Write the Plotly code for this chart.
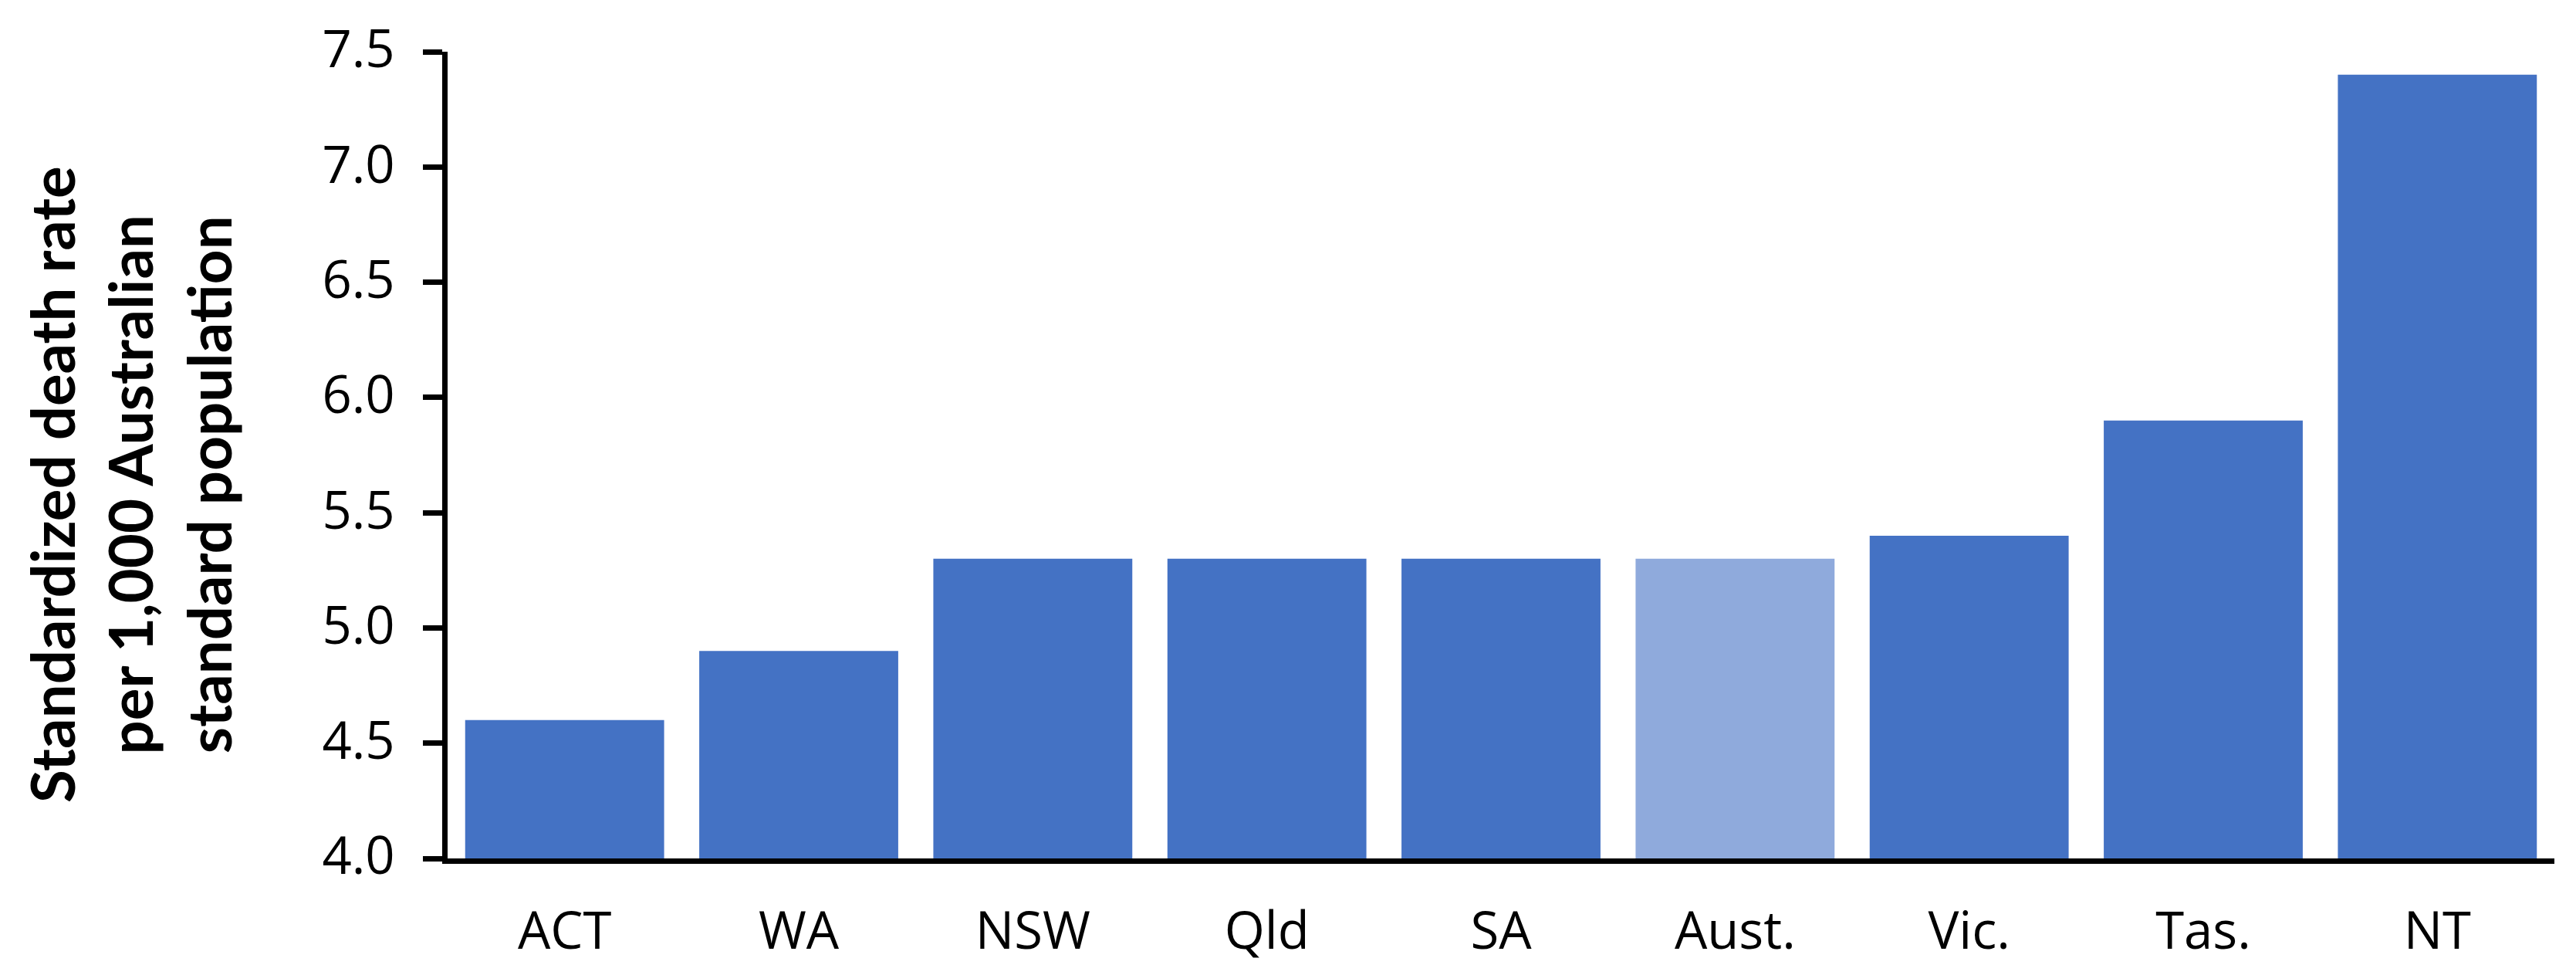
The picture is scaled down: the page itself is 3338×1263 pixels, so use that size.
import plotly.graph_objects as go

categories = ["ACT", "WA", "NSW", "Qld", "SA", "Aust.", "Vic.", "Tas.", "NT"]
values = [4.6, 4.9, 5.3, 5.3, 5.3, 5.3, 5.4, 5.9, 7.4]
highlight = "Aust."
y_ticks = [4.0, 4.5, 5.0, 5.5, 6.0, 6.5, 7.0, 7.5]
y_title = "Standardized death rate<br>per 1,000 Australian<br>standard population"

DARK = "#4472C4"
LIGHT = "#8FAADC"
colors = [LIGHT if c == highlight else DARK for c in categories]

fig = go.Figure(go.Bar(x=categories, y=values, marker=dict(color=colors, line=dict(width=0))))

W, H = 3338, 1263
L, R, T, B = 580, 28, 67, 151
PW, PH = W - L - R, H - T - B
TICKFONT = "Open Sans"

fig.update_layout(
    width=W, height=H,
    margin=dict(l=L, r=R, t=T, b=B, pad=0),
    paper_bgcolor="white", plot_bgcolor="white",
    showlegend=False,
    font=dict(family="Lato, sans-serif", color="black"),
    bargap=0.15,
)
fig.update_xaxes(
    range=[-0.5, 8.5],
    showline=True, linecolor="black", linewidth=7,
    ticks="", showgrid=False,
    tickfont=dict(size=67, family=TICKFONT, color="black"),
    ticklabelstandoff=30,
)
fig.update_yaxes(
    range=[4.0, 7.5],
    tickvals=y_ticks, ticktext=[f"{v:.1f}" for v in y_ticks],
    showline=True, linecolor="black", linewidth=7,
    ticks="outside", ticklen=25, tickwidth=7, tickcolor="black",
    showgrid=False, zeroline=False,
    tickfont=dict(size=67, family=TICKFONT, color="black"),
    ticklabelstandoff=23, ticklabelshift=-3,
)
fig.add_annotation(
    text=y_title, xref="paper", yref="paper",
    x=(168 - L) / PW, y=(H - B - 628) / PH,
    xanchor="center", yanchor="middle", textangle=-90, align="center",
    showarrow=False,
    font=dict(size=78, family="Lato", color="black", weight="bold"),
)
fig.write_html("out.html", config={"displayModeBar": False},
               post_script="document.body.style.margin='0';")
